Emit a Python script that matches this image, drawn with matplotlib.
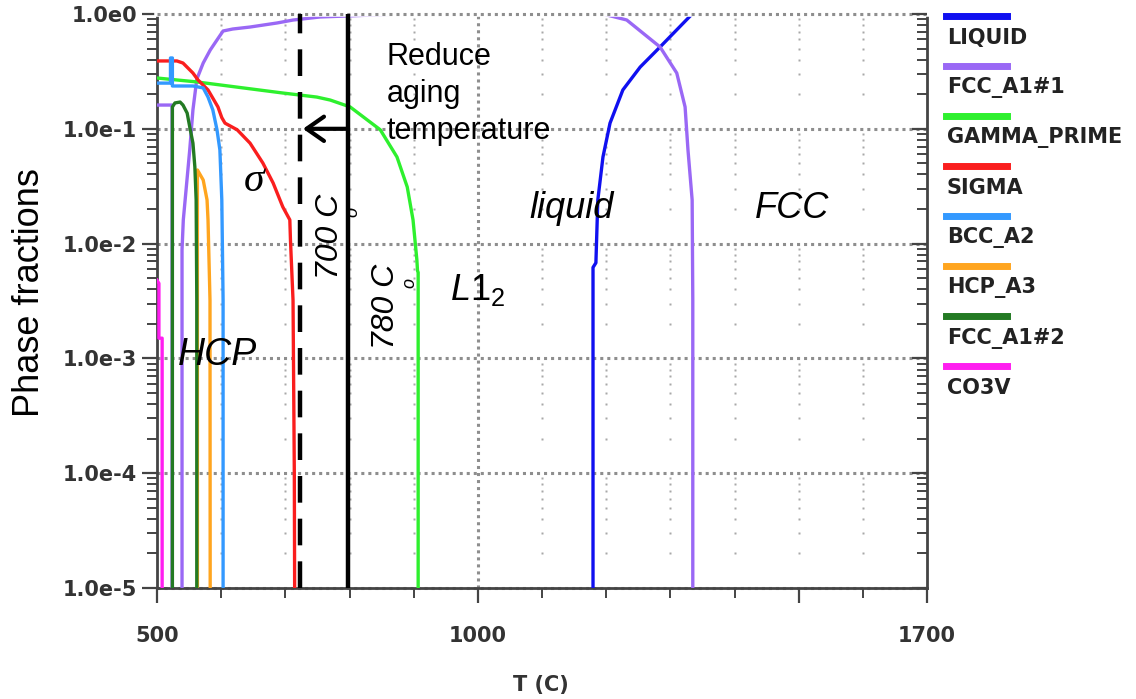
import matplotlib.pyplot as plt
from matplotlib.lines import Line2D
from matplotlib.ticker import LogLocator, MultipleLocator, NullFormatter

plt.rcParams['mathtext.fontset'] = 'custom'
plt.rcParams['mathtext.it'] = 'Liberation Sans:italic'
plt.rcParams['mathtext.rm'] = 'Liberation Sans'

# phases, in legend order
phases = ['LIQUID', 'FCC_A1#1', 'GAMMA_PRIME', 'SIGMA', 'BCC_A2', 'HCP_A3', 'FCC_A1#2', 'CO3V']
colors = ['#1010f0', '#9a68f5', '#2ef02e', '#fa1e1e', '#3399ff', '#ffa51f', '#237a23', '#ff1ef0']

# phase fractions (1e-6 = phase gone, clipped at the bottom)
T_liquid = [1179.5, 1179.5, 1184, 1187, 1195, 1206, 1226, 1253, 1284, 1334, 1700]
f_liquid = [1e-6, 0.0062, 0.0068, 0.024, 0.0568, 0.112, 0.218, 0.345, 0.516, 1.0, 1.0]

T_fcc1 = [500, 523.5, 523.5, 539, 539, 541, 551, 556, 562, 572, 583, 593.5, 603, 618, 645,
          687, 712, 754, 879, 1195, 1232, 1284, 1310, 1323, 1327.5, 1334, 1335, 1335]
f_fcc1 = [0.161, 0.161, 1e-6, 1e-6, 0.0088, 0.0161, 0.0654, 0.146, 0.27, 0.374, 0.486, 0.594,
          0.711, 0.74, 0.77, 0.835, 0.886, 0.942, 1.0, 1.0, 0.887, 0.516, 0.306, 0.155, 0.0654,
          0.024, 0.0032, 1e-6]

T_gp = [500, 562, 696, 749, 770, 801, 848, 874, 890, 899, 905, 906, 907, 907]
f_gp = [0.277, 0.256, 0.205, 0.189, 0.178, 0.155, 0.098, 0.0568, 0.0311, 0.0161, 0.0072,
        0.0058, 0.0056, 1e-6]

T_sigma = [500, 531, 540.5, 556, 564, 579.5, 595, 601, 606, 625, 645, 665, 681, 696, 707,
           708, 712, 714, 715]
f_sigma = [0.39, 0.39, 0.374, 0.306, 0.266, 0.218, 0.155, 0.125, 0.112, 0.098, 0.075, 0.0503,
           0.0337, 0.0209, 0.0161, 0.0107, 0.0032, 1e-4, 1e-6]

T_bcc = [500, 521, 521, 524, 524, 556, 572, 579.5, 587, 593.5, 598, 601, 603, 603]
f_bcc = [0.25, 0.25, 0.414, 0.414, 0.236, 0.236, 0.227, 0.189, 0.146, 0.098, 0.0654, 0.024,
         0.0032, 1e-6]

T_hcp = [563, 563, 572, 578, 579.5, 582.6, 583]
f_hcp = [1e-6, 0.0438, 0.0358, 0.024, 0.0161, 0.0032, 1e-6]

T_fcc2 = [524, 524, 528, 536, 540.5, 547, 551, 556, 559, 561, 562, 562]
f_fcc2 = [1e-6, 0.155, 0.168, 0.171, 0.161, 0.137, 0.104, 0.075, 0.0465, 0.024, 0.0032, 1e-6]

T_co3v = [500, 503, 503, 508, 508]
f_co3v = [0.0048, 0.0045, 0.0015, 0.0015, 1e-6]

curves = [(T_liquid, f_liquid), (T_fcc1, f_fcc1), (T_gp, f_gp), (T_sigma, f_sigma),
          (T_bcc, f_bcc), (T_hcp, f_hcp), (T_fcc2, f_fcc2), (T_co3v, f_co3v)]

# aging temperatures (lines as placed in the picture)
T_old = 797.6
T_new = 723

yticks = [1e0, 1e-1, 1e-2, 1e-3, 1e-4, 1e-5]
ylabels = ['1.0e0', '1.0e-1', '1.0e-2', '1.0e-3', '1.0e-4', '1.0e-5']
xticks = [500, 1000, 1500, 1700]
xlabels = ['500', '1000', '', '1700']

W, H = 1136, 699
fig = plt.figure(figsize=(W / 100, H / 100), dpi=100)
ax = fig.add_axes([157 / W, 1 - 588 / H, 770 / W, 574 / H])
ax.set_yscale('log')
ax.set_xlim(500, 1700)
ax.set_ylim(1e-5, 1)

# grid: dense dotted decades, sparse dots on the verticals
grid_c = '#8e8e8e'
for v in yticks:
    ax.axhline(v, color=grid_c, lw=2.2, ls=(0, (1, 1.3)), zorder=1, clip_on=False)
ax.axvline(1000, color=grid_c, lw=2.2, ls=(0, (1, 1.3)), zorder=1)
minor_y = [k * 10.0 ** d for d in range(-5, 0) for k in range(2, 10)]
for t in range(600, 1700, 100):
    if t == 1000:
        continue
    ax.plot([t] * len(minor_y), minor_y, ls='none', marker='s', ms=1.9,
            color='#a8a8a8', mec='none', zorder=1)

for (T, f), c in zip(curves, colors):
    ax.plot(T, f, color=c, lw=2.4, zorder=3)

# the top edge hides the curves sitting at 1.0
ax.axhline(1.0, color='white', lw=4, zorder=3.5, clip_on=False)
ax.axhline(1.0, color=grid_c, lw=2.2, ls=(0, (1, 1.3)), zorder=3.6, clip_on=False)

# aging temperature lines and arrow
ax.axvline(T_new, color='black', lw=3.2, ls=(0, (6, 3.6)), zorder=4)
ax.axvline(T_old, color='black', lw=3.2, zorder=4)
ax.annotate('', xy=(727.5, 0.1), xytext=(T_old, 0.1),
            arrowprops=dict(arrowstyle='->, head_length=0.5, head_width=0.35',
                            lw=3, color='black', shrinkA=0, shrinkB=0, mutation_scale=25),
            zorder=5)

sans = 'Liberation Sans'
ax.text(858, 0.57, 'Reduce\naging\ntemperature', fontsize=22, family=sans,
        ha='left', va='top', linespacing=1.3, zorder=6)
ax.text(651, 0.035, 'σ', fontsize=30, family='Liberation Serif', style='italic',
        ha='center', va='center', zorder=6)
ax.text(769.6, 0.01164, '700 C', fontsize=23, family=sans, style='italic', rotation=90,
        ha='center', va='center', zorder=6)
ax.text(805.4, 0.0188, 'o', fontsize=13, family=sans, style='italic', rotation=90,
        ha='center', va='center', zorder=6)
ax.text(856.9, 0.00286, '780 C', fontsize=23, family=sans, style='italic', rotation=90,
        ha='center', va='center', zorder=6)
ax.text(894.3, 0.00454, 'o', fontsize=13, family=sans, style='italic', rotation=90,
        ha='center', va='center', zorder=6)
ax.text(956.6, 0.00323, r'$L1_2$', fontsize=26, ha='left', va='baseline', zorder=6)
ax.text(1081, 0.0167, 'liquid', fontsize=26, family=sans, style='italic',
        ha='left', va='baseline', zorder=6)
ax.text(1432, 0.0167, 'FCC', fontsize=26, family=sans, style='italic',
        ha='left', va='baseline', zorder=6)
ax.text(532.7, 0.000877, 'HCP', fontsize=27, family=sans, style='italic',
        ha='left', va='baseline', zorder=6)

# axes frame and ticks
spine_c = '#444444'
ax.spines['top'].set_visible(False)
for s in ['left', 'bottom', 'right']:
    ax.spines[s].set_color(spine_c)
    ax.spines[s].set_linewidth(2)
ax.set_yticks(yticks, ylabels)
ax.yaxis.set_minor_locator(LogLocator(base=10, subs=range(2, 10), numticks=20))
ax.yaxis.set_minor_formatter(NullFormatter())
ax.set_xticks(xticks, xlabels)
ax.xaxis.set_minor_locator(MultipleLocator(100))
tick_font = dict(family='DejaVu Sans', weight='bold', size=15)
for lab in ax.get_xticklabels() + ax.get_yticklabels():
    lab.set_fontproperties(tick_font)
    lab.set_color('#333333')
ax.tick_params(axis='both', which='major', direction='out', length=11, width=1.6,
               color=spine_c)
ax.tick_params(axis='both', which='minor', direction='out', length=7, width=1.4,
               color=spine_c)
ax.tick_params(axis='y', which='major', pad=3.5)
ax.tick_params(axis='x', which='major', pad=16)

ax2 = ax.twinx()
ax2.set_yscale('log')
ax2.set_ylim(1e-5, 1)
ax2.yaxis.set_minor_locator(LogLocator(base=10, subs=range(2, 10), numticks=20))
ax2.tick_params(axis='y', which='both', direction='in', labelright=False, color=spine_c)
ax2.tick_params(axis='y', which='major', length=11, width=1.6)
ax2.tick_params(axis='y', which='minor', length=7, width=1.4)
for s in ax2.spines.values():
    s.set_visible(False)

fig.text(541 / W, 1 - 685 / H, 'T (C)', fontsize=15, family='DejaVu Sans',
         weight='bold', color='#333333', ha='center', va='center')
fig.text(30 / W, 1 - 293 / H, 'Phase fractions', fontsize=26, family=sans,
         rotation=90, ha='center', va='center')

# legend: line above each label
for i, (name, c) in enumerate(zip(phases, colors)):
    y = 16 + 50 * i
    fig.add_artist(Line2D([946 / W, 1007 / W], [1 - y / H] * 2, color=c, lw=5,
                          transform=fig.transFigure))
    fig.text(947 / W, 1 - (y + 22) / H, name, fontsize=15, family='DejaVu Sans',
             weight='bold', color='#222222', ha='left', va='center')

fig.savefig('out.png', dpi=100)
